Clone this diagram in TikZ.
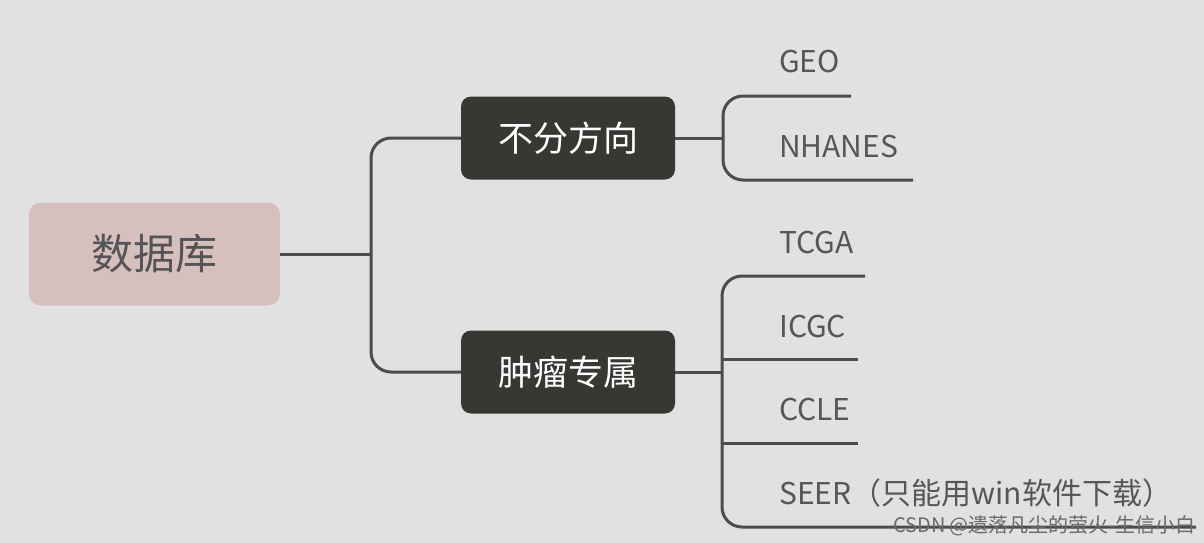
\documentclass[tikz,border=0pt]{standalone}
\usepackage{fontspec}
\setmainfont{Noto Sans CJK SC}
\definecolor{bgc}{HTML}{E1E1E1}
\definecolor{rootc}{HTML}{D6C0BD}
\definecolor{roottext}{HTML}{545358}
\definecolor{darkc}{HTML}{373733}
\definecolor{linec}{HTML}{4B4B50}
\definecolor{leaftext}{HTML}{55555A}
\definecolor{wmc}{HTML}{6A6A6A}
\begin{document}
\begin{tikzpicture}[x=1pt,y=-1pt,
  rootbox/.style={fill=rootc, rounded corners=12pt, minimum width=251pt, minimum height=103pt, inner sep=0pt, text=roottext, font=\fontsize{42}{46}\selectfont},
  midbox/.style={fill=darkc, rounded corners=10pt, minimum width=214pt, minimum height=83pt, inner sep=0pt, text=white, font=\fontsize{35}{40}\selectfont},
  leaf/.style={anchor=base west, inner sep=0pt, text=leaftext, font=\fontsize{30}{34}\selectfont},
  conn/.style={draw=linec, line width=3pt, rounded corners=20pt},
  wm/.style={anchor=base east, inner sep=0pt, text=wmc, font=\fontsize{20}{22}\selectfont}]
\fill[bgc] (0,0) rectangle (1204,543);
\useasboundingbox (0,0) rectangle (1204,543);

% main nodes
\node[rootbox] (root) at (154.5,254) {数据库};
\node[midbox] (n1) at (568,138) {不分方向};
\node[midbox] (n2) at (568,372) {肿瘤专属};

% leaves
\node[leaf] (geo) at (779,73) {GEO};
\node[leaf] (nhanes) at (779,157) {NHANES};
\node[leaf] (tcga) at (779,253) {TCGA};
\node[leaf] (icgc) at (779,337) {ICGC};
\node[leaf] (ccle) at (779,420) {CCLE};
\node[leaf] (seer) at (779,504) {SEER（只能用win软件下载）};

% junctions and line ends
\coordinate (j0) at (371,254);
\coordinate (j1) at (723,138);
\coordinate (j2) at (722,372);
\coordinate (geoE) at (851,96);
\coordinate (nhanesE) at (913,180);
\coordinate (tcgaE) at (865,276);
\coordinate (icgcE) at (858,359);
\coordinate (ccleE) at (858,443);
\coordinate (seerE) at (1196,527);

% connectors
\draw[conn] (root.east) -- (j0);
\draw[conn] (n1.west) -| (j0) |- (n2.west);
\draw[conn] (n1.east) -- (j1);
\draw[conn] (geoE) -| (j1) |- (nhanesE);
\draw[conn] (n2.east) -- (j2);
\draw[conn] (tcgaE) -| (j2) |- (seerE);
\draw[conn] (icgcE) -- (icgcE -| j2);
\draw[conn] (ccleE) -- (ccleE -| j2);

% watermark
\node[wm] (mark) at (1196,532) {CSDN @遗落凡尘的萤火-生信小白};
\end{tikzpicture}
\end{document}
